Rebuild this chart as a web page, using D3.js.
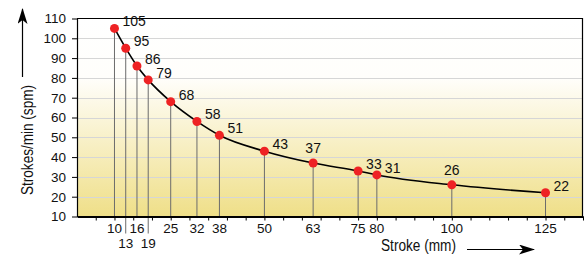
<!DOCTYPE html>
<html>
<head>
<meta charset="utf-8">
<script src="https://cdn.jsdelivr.net/npm/d3@7"></script>
<style>
  body { margin: 0; background: #fff; }
  svg { display: block; }
  text { font-family: "Liberation Sans", Arial, sans-serif; fill: #111; }
</style>
</head>
<body>
<svg id="chart" width="584" height="255"></svg>
<script>
// data
let strokes = [10, 13, 16, 19, 25, 32, 38, 50, 63, 75, 80, 100, 125];
let spm = [105, 95, 86, 79, 68, 58, 51, 43, 37, 33, 31, 26, 22];
// where each value label sits: "r" = right of the dot, "t" = on top
let labelSide = ["r", "r", "r", "r", "r", "r", "r", "r", "t", "r", "r", "t", "r"];
// strokes whose tick label drops to a second row
let lowRow = [13, 19];
let yTicks = [10, 20, 30, 40, 50, 60, 70, 80, 90, 100, 110];

let width = 584;
let height = 255;
let margin = { top: 18.5, right: 1, bottom: 38.5, left: 77 };

let svg = d3.select("#chart");

let x = d3.scaleLinear().domain([0, 135]).range([margin.left, width - margin.right]);
let y = d3.scaleLinear().domain([10, 110]).range([height - margin.bottom, margin.top]);

// background gradient, white on top to pale yellow at the bottom
let defs = svg.append("defs");
let grad = defs.append("linearGradient")
  .attr("id", "bg")
  .attr("x1", 0).attr("y1", 0).attr("x2", 0).attr("y2", 1);
grad.append("stop").attr("offset", "0%").attr("stop-color", "#ffffff");
grad.append("stop").attr("offset", "30%").attr("stop-color", "#fffefb");
grad.append("stop").attr("offset", "100%").attr("stop-color", "#efdf88");

let arrow = defs.append("marker")
  .attr("id", "head")
  .attr("viewBox", "0 0 16 10")
  .attr("refX", 15).attr("refY", 5)
  .attr("markerWidth", 16).attr("markerHeight", 10)
  .attr("markerUnits", "userSpaceOnUse")
  .attr("orient", "auto");
arrow.append("path").attr("d", "M0,0 L16,5 L0,10 L4,5 Z").attr("fill", "#000");

svg.append("rect")
  .attr("x", x(0))
  .attr("y", y(110))
  .attr("width", x(135) - x(0))
  .attr("height", y(10) - y(110))
  .attr("fill", "url(#bg)");

// horizontal grid
svg.append("g")
  .selectAll("line")
  .data(yTicks.slice(1, -1))
  .enter()
  .append("line")
  .attr("x1", x(0))
  .attr("x2", x(135))
  .attr("y1", d => Math.round(y(d)) + 0.5)
  .attr("y2", d => Math.round(y(d)) + 0.5)
  .attr("stroke", "#d6d6d6")
  .attr("stroke-width", 1);

// drop lines from each dot to the axis (longer for the second-row labels)
svg.append("g")
  .selectAll("line")
  .data(strokes)
  .enter()
  .append("line")
  .attr("x1", d => x(d))
  .attr("x2", d => x(d))
  .attr("y1", (d, i) => y(spm[i]))
  .attr("y2", d => lowRow.includes(d) ? y(10) + 17 : y(10))
  .attr("stroke", "#6b6b6b")
  .attr("stroke-width", 1);

// frame: top and right border
svg.append("path")
  .attr("d", `M${x(0)},${y(110)}H${x(135) - 0.5}V${y(10)}`)
  .attr("fill", "none")
  .attr("stroke", "#000")
  .attr("stroke-width", 1.2);

// y axis
let yAxis = svg.append("g")
  .attr("transform", `translate(${x(0)},0)`)
  .call(d3.axisLeft(y).tickValues(yTicks).tickSize(5).tickPadding(6).tickSizeOuter(0));
yAxis.attr("font-family", null);
yAxis.select(".domain").attr("stroke-width", 1.2);
yAxis.selectAll("text")
  .attr("font-size", 13.5)
  .attr("fill", null);

// x axis: minor ticks every 5 mm, no labels
let xAxis = svg.append("g")
  .attr("transform", `translate(0,${y(10)})`)
  .call(d3.axisBottom(x).tickValues(d3.range(5, 136, 5)).tickSize(4).tickFormat("").tickSizeOuter(0));
xAxis.select(".domain").attr("stroke-width", 2);

// stroke labels under the axis
svg.append("g")
  .selectAll("text")
  .data(strokes)
  .enter()
  .append("text")
  .attr("x", d => x(d))
  .attr("y", d => lowRow.includes(d) ? y(10) + 31.5 : y(10) + 16.5)
  .attr("text-anchor", "middle")
  .attr("font-size", 13.5)
  .text(d => d);

// the curve
let line = d3.line()
  .x(d => x(d[0]))
  .y(d => y(d[1]))
  .curve(d3.curveMonotoneX);

svg.append("path")
  .datum(strokes.map((s, i) => [s, spm[i]]))
  .attr("d", line)
  .attr("fill", "none")
  .attr("stroke", "#000")
  .attr("stroke-width", 1.6);

// dots
svg.append("g")
  .selectAll("circle")
  .data(strokes)
  .enter()
  .append("circle")
  .attr("cx", d => x(d))
  .attr("cy", (d, i) => y(spm[i]))
  .attr("r", 4.5)
  .attr("fill", "#ee2224");

// value labels
svg.append("g")
  .selectAll("text")
  .data(spm)
  .enter()
  .append("text")
  .attr("x", (d, i) => labelSide[i] == "t" ? x(strokes[i]) : x(strokes[i]) + 8)
  .attr("y", (d, i) => labelSide[i] == "t" ? y(d) - 10 : y(d) - 2)
  .attr("text-anchor", (d, i) => labelSide[i] == "t" ? "middle" : "start")
  .attr("font-size", 14)
  .text(d => d);

// axis titles with arrows (condensed, like the original)
svg.append("text")
  .attr("transform", "translate(33,140) rotate(-90)")
  .attr("text-anchor", "middle")
  .attr("font-size", 16.5)
  .attr("textLength", 110)
  .attr("lengthAdjust", "spacingAndGlyphs")
  .text("Strokes/min (spm)");

svg.append("line")
  .attr("x1", 22.5).attr("y1", 77)
  .attr("x2", 22.5).attr("y2", 9)
  .attr("stroke", "#000")
  .attr("stroke-width", 1.2)
  .attr("marker-end", "url(#head)");

svg.append("text")
  .attr("x", 381)
  .attr("y", 251)
  .attr("font-size", 16)
  .attr("textLength", 75)
  .attr("lengthAdjust", "spacingAndGlyphs")
  .text("Stroke (mm)");

svg.append("line")
  .attr("x1", 467).attr("y1", 249.5)
  .attr("x2", 534).attr("y2", 249.5)
  .attr("stroke", "#000")
  .attr("stroke-width", 1.2)
  .attr("marker-end", "url(#head)");
</script>
</body>
</html>
